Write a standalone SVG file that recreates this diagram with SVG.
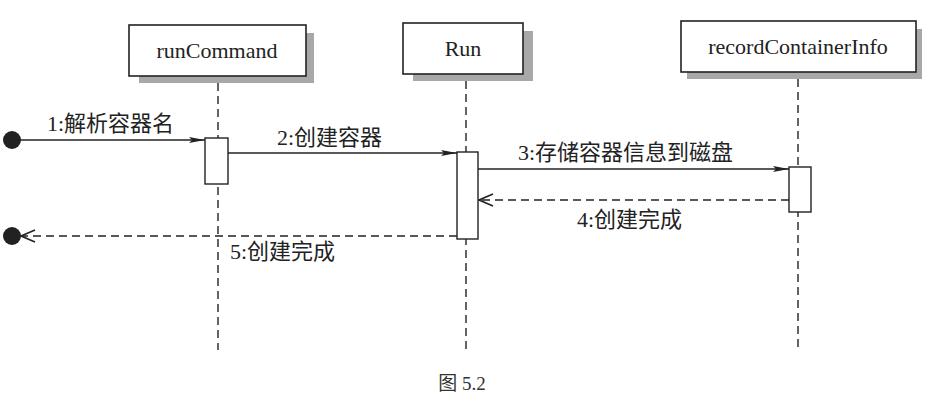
<svg xmlns="http://www.w3.org/2000/svg" width="931" height="404" viewBox="0 0 931 404">
<defs>
<marker id="fill" viewBox="0 0 16 8" refX="16" refY="4" markerWidth="16" markerHeight="8" markerUnits="userSpaceOnUse" orient="auto">
<path d="M0,1 L16,4 L0,7 L3,4 Z" fill="#222"/>
</marker>
<marker id="open" viewBox="0 0 16 14" refX="15" refY="7" markerWidth="16" markerHeight="14" markerUnits="userSpaceOnUse" orient="auto">
<path d="M1,1 L15,7 L1,13" fill="none" stroke="#222" stroke-width="1.6"/>
</marker>
</defs>
<style>
.box{fill:#fff;stroke:#222;stroke-width:1.6}
.shadow{fill:#a8a8a8}
.life{stroke:#222;stroke-width:1.4;stroke-dasharray:8 5;fill:none}
.act{fill:#fff;stroke:#222;stroke-width:1.4}
.msg{stroke:#222;stroke-width:1.4;fill:none}
.ret{stroke:#222;stroke-width:1.4;fill:none;stroke-dasharray:8 5}
.name{font-family:"Liberation Serif","Noto Sans CJK SC",serif;font-size:22px;fill:#222;text-anchor:middle}
.lbl{font-family:"Liberation Serif","Noto Sans CJK SC",serif;font-size:22px;fill:#222}
.cap{font-family:"Liberation Serif","Noto Sans CJK SC",serif;font-size:19px;fill:#333;text-anchor:middle}
</style>
<rect width="931" height="404" fill="#fff"/>
<g id="lifelines">
<line class="life" x1="218" y1="83" x2="218" y2="350"/>
<line class="life" x1="466" y1="81" x2="466" y2="350"/>
<line class="life" x1="798" y1="79" x2="798" y2="350"/>
</g>
<g id="runCommand">
<rect class="shadow" x="139" y="33" width="175" height="50"/>
<rect class="box" x="129" y="25" width="177" height="51"/>
<text class="name" x="217" y="58">runCommand</text>
</g>
<g id="Run">
<rect class="shadow" x="413" y="31" width="120" height="50"/>
<rect class="box" x="403" y="23" width="120" height="51"/>
<text class="name" x="463" y="56">Run</text>
</g>
<g id="recordContainerInfo">
<rect class="shadow" x="687" y="29" width="235" height="50"/>
<rect class="box" x="681" y="21" width="235" height="51"/>
<text class="name" x="798" y="54">recordContainerInfo</text>
</g>
<g id="activations">
<rect class="act" x="205" y="138" width="23" height="46"/>
<rect class="act" x="457" y="152" width="21" height="87"/>
<rect class="act" x="789" y="167" width="22" height="45"/>
</g>
<g id="connectors">
<circle cx="12" cy="140" r="9" fill="#222"/>
<line class="msg" x1="12" y1="140" x2="205" y2="140" marker-end="url(#fill)"/>
<line class="msg" x1="228" y1="153" x2="457" y2="153" marker-end="url(#fill)"/>
<line class="msg" x1="478" y1="169" x2="789" y2="169" marker-end="url(#fill)"/>
<line class="ret" x1="789" y1="200" x2="479" y2="200" marker-end="url(#open)"/>
<circle cx="12" cy="236" r="9" fill="#222"/>
<line class="ret" x1="457" y1="236" x2="21" y2="236" marker-end="url(#open)"/>
</g>
<g id="labels">
<text class="lbl" x="47" y="131">1:解析容器名</text>
<text class="lbl" x="277" y="145">2:创建容器</text>
<text class="lbl" x="518" y="160">3:存储容器信息到磁盘</text>
<text class="lbl" x="577" y="227">4:创建完成</text>
<text class="lbl" x="230" y="259">5:创建完成</text>
</g>
<text class="cap" x="462" y="390">图 5.2</text>
</svg>
